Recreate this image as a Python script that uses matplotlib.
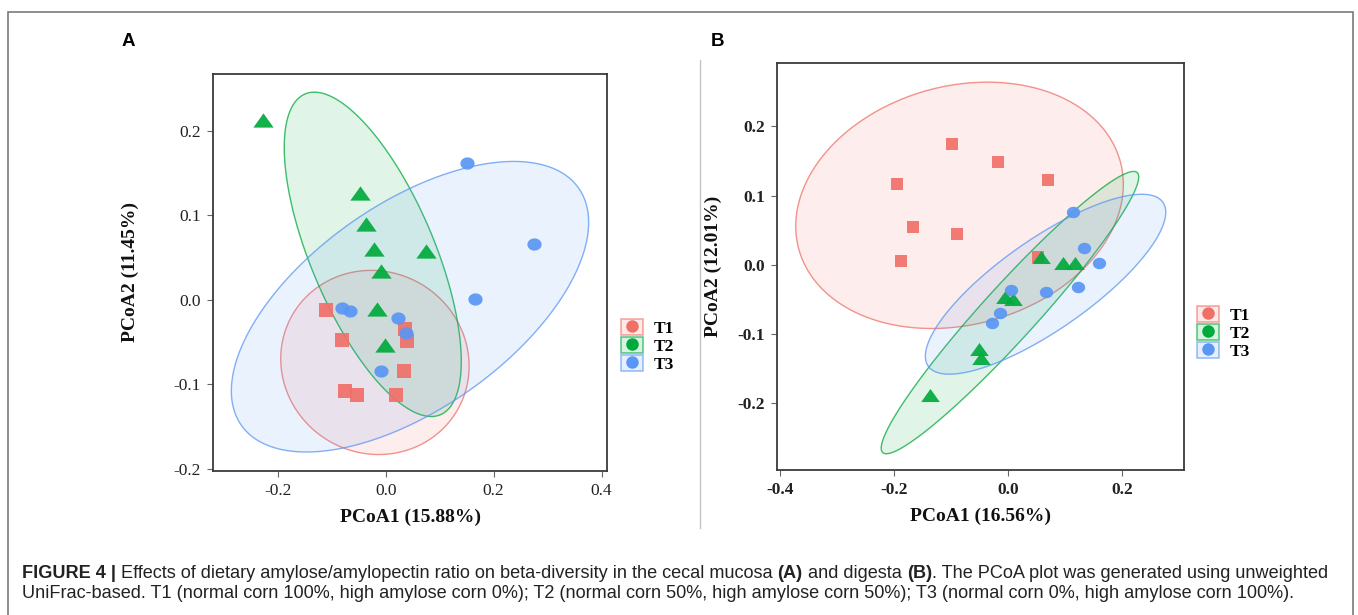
import numpy as np
import matplotlib
matplotlib.use('Agg')
import matplotlib.pyplot as plt
from matplotlib.patches import Rectangle
from matplotlib.lines import Line2D
from matplotlib.legend_handler import HandlerTuple
from matplotlib.colors import to_rgba
from matplotlib import font_manager as fm
from matplotlib.font_manager import FontProperties

# ---------------- data ----------------
groups = ['T1', 'T2', 'T3']
colors = ['#F07068', '#00AA3C', '#5A96F5']

# Panel A (cecal mucosa)
a_t1_x = [-0.111, 0.036, 0.040, -0.081, 0.034, -0.075, -0.054, 0.019]
a_t1_y = [-0.012, -0.034, -0.049, -0.048, -0.084, -0.108, -0.113, -0.113]
a_t2_x = [-0.227, -0.048, -0.036, -0.022, 0.074, -0.009, -0.017, -0.001]
a_t2_y = [0.213, 0.127, 0.090, 0.060, 0.058, 0.034, -0.011, -0.053]
a_t3_x = [0.151, 0.275, 0.165, -0.081, -0.067, 0.022, 0.038, -0.009]
a_t3_y = [0.162, 0.066, 0.001, -0.009, -0.013, -0.021, -0.039, -0.084]

# confidence ellipses A: centre, half-extent in x / y, correlation
a_ell_cx = [-0.020, -0.024, 0.045]
a_ell_cy = [-0.074, 0.054, -0.008]
a_ell_sx = [0.1745, 0.164, 0.331]
a_ell_sy = [0.109, 0.192, 0.172]
a_ell_rho = [-0.04, -0.66, 0.58]

# Panel B (digesta)
b_t1_x = [-0.098, -0.017, 0.071, -0.194, -0.167, -0.090, -0.187, 0.053]
b_t1_y = [0.175, 0.149, 0.123, 0.117, 0.055, 0.044, 0.006, 0.012]
b_t2_x = [0.058, 0.097, 0.118, -0.005, 0.009, -0.051, -0.048, -0.136]
b_t2_y = [0.011, 0.002, 0.003, -0.046, -0.050, -0.122, -0.134, -0.188]
b_t3_x = [0.115, 0.134, 0.160, 0.123, 0.006, 0.067, -0.014, -0.028]
b_t3_y = [0.076, 0.024, 0.002, -0.032, -0.037, -0.039, -0.070, -0.084]

b_ell_cx = [-0.085, 0.0035, 0.066]
b_ell_cy = [0.086, -0.069, -0.028]
b_ell_sx = [0.2875, 0.226, 0.211]
b_ell_sy = [0.178, 0.204, 0.130]
b_ell_rho = [0.17, 0.96, 0.80]

a_xticks = [-0.2, 0.0, 0.2, 0.4]
a_xticklabels = ['-0.2', '0.0', '0.2', '0.4']
a_yticks = [-0.2, -0.1, 0.0, 0.1, 0.2]
a_yticklabels = ['-0.2', '-0.1', '0.0', '0.1', '0.2']
b_xticks = [-0.4, -0.2, 0.0, 0.2]
b_xticklabels = ['-0.4', '-0.2', '0.0', '0.2']
b_yticks = [-0.2, -0.1, 0.0, 0.1, 0.2]
b_yticklabels = ['-0.2', '-0.1', '0.0', '0.1', '0.2']

a_xlabel = 'PCoA1 (15.88%)'
a_ylabel = 'PCoA2 (11.45%)'
b_xlabel = 'PCoA1 (16.56%)'
b_ylabel = 'PCoA2 (12.01%)'

caption_line1 = [
    ('FIGURE 4 |', 'bold'),
    (' Effects of dietary amylose/amylopectin ratio on beta-diversity in the cecal mucosa ', 'normal'),
    ('(A)', 'bold'),
    (' and digesta ', 'normal'),
    ('(B)', 'bold'),
    ('. The PCoA plot was generated using unweighted', 'normal'),
]
caption_line2 = [
    ('UniFrac-based. T1 (normal corn 100%, high amylose corn 0%); T2 (normal corn 50%, '
     'high amylose corn 50%); T3 (normal corn 0%, high amylose corn 100%).', 'normal'),
]

# ---------------- styling ----------------
SERIF = ['Liberation Serif', 'DejaVu Serif']
plt.rcParams['font.family'] = SERIF
W, H = 1358, 615
fig = plt.figure(figsize=(W / 100, H / 100), dpi=100)
fig.patch.set_facecolor('white')

def px_axes(l, t, r, b):
    return fig.add_axes([l / W, 1 - b / H, (r - l) / W, (b - t) / H])

ax_a = px_axes(213, 74, 607, 471)
ax_b = px_axes(777, 63, 1184, 470)

tri = [(-1, -0.70), (1, -0.70), (0, 0.70), (-1, -0.70)]
th = np.linspace(0, 2 * np.pi, 40)
ovl = list(zip(np.cos(th), 0.86 * np.sin(th)))
markers = ['s', tri, ovl]

def ellipse_pts(cx, cy, sx, sy, rho):
    t = np.linspace(0, 2 * np.pi, 300)
    x = cx + sx * np.cos(t)
    y = cy + sy * (rho * np.cos(t) + np.sqrt(1 - rho ** 2) * np.sin(t))
    return x, y

def draw_panel(ax, pts, ell, sizes, xlim, ylim, xt, xtl, yt, ytl, bold_ticks):
    cx, cy, sx, sy, rho = ell
    for i, c in enumerate(colors):
        ex, ey = ellipse_pts(cx[i], cy[i], sx[i], sy[i], rho[i])
        ax.fill(ex, ey, facecolor=to_rgba(c, 0.12), edgecolor=to_rgba(c, 0.75),
                linewidth=1.0, zorder=1)
    for i, c in enumerate(colors):
        x, y = pts[i]
        ax.scatter(x, y, s=sizes[i], marker=markers[i], color=c, alpha=0.92,
                   linewidths=0, zorder=3)
    ax.set_xlim(*xlim)
    ax.set_ylim(*ylim)
    ax.set_xticks(xt)
    ax.set_xticklabels(xtl)
    ax.set_yticks(yt)
    ax.set_yticklabels(ytl)
    w = 'bold' if bold_ticks else 'normal'
    for lab in ax.get_xticklabels() + ax.get_yticklabels():
        lab.set_fontweight(w)
        lab.set_fontsize(12.5)
        lab.set_color('#222222')
    ax.tick_params(direction='out', length=4, width=0.8, color='#666666', pad=4.5)
    for sp in ax.spines.values():
        sp.set_color('#3a3a3a')
        sp.set_linewidth(1.3)

draw_panel(ax_a, [(a_t1_x, a_t1_y), (a_t2_x, a_t2_y), (a_t3_x, a_t3_y)],
           (a_ell_cx, a_ell_cy, a_ell_sx, a_ell_sy, a_ell_rho),
           [88, 215, 105], (-0.32, 0.41), (-0.2025, 0.2675),
           a_xticks, a_xticklabels, a_yticks, a_yticklabels, False)
draw_panel(ax_b, [(b_t1_x, b_t1_y), (b_t2_x, b_t2_y), (b_t3_x, b_t3_y)],
           (b_ell_cx, b_ell_cy, b_ell_sx, b_ell_sy, b_ell_rho),
           [80, 180, 92], (-0.4054, 0.309), (-0.2965, 0.2917),
           b_xticks, b_xticklabels, b_yticks, b_yticklabels, True)

lab_kw = dict(fontsize=14, fontweight='bold', color='#111111')
ax_a.set_xlabel(a_xlabel, labelpad=7, **lab_kw)
ax_a.set_ylabel(a_ylabel, labelpad=25, **lab_kw)
ax_b.set_xlabel(b_xlabel, labelpad=7, **lab_kw)
ax_b.set_ylabel(b_ylabel, labelpad=11, **lab_kw)

def add_legend(ax, x_px, y_px):
    handles = []
    for c in colors:
        r = Rectangle((0, 0), 1, 1, facecolor=to_rgba(c, 0.15),
                      edgecolor=to_rgba(c, 0.6), linewidth=1.2)
        m = Line2D([], [], ls='', marker='o', markersize=9, markerfacecolor=c,
                   markeredgecolor='none')
        handles.append((r, m))
    leg = ax.legend(handles, groups, handler_map={tuple: HandlerTuple(ndivide=1, pad=0)},
                    loc='center left', bbox_to_anchor=(x_px / W, 1 - y_px / H),
                    bbox_transform=fig.transFigure, frameon=False, borderpad=0,
                    borderaxespad=0, handlelength=1.25, handleheight=1.05,
                    labelspacing=0.02, handletextpad=0.65,
                    prop=FontProperties(family=SERIF, weight='bold', size=12.5))
    return leg

add_legend(ax_a, 621, 346)
add_legend(ax_b, 1197, 333)

# panel letters
fig.text(128 / W, 1 - 42 / H, 'A', ha='center', va='center', fontsize=13.5,
         fontweight='bold', family=['Liberation Sans', 'DejaVu Sans'])
fig.text(718 / W, 1 - 42 / H, 'B', ha='center', va='center', fontsize=13.5,
         fontweight='bold', family=['Liberation Sans', 'DejaVu Sans'])

# outer frame and separator
fig.add_artist(Rectangle((7.5 / W, -0.05), (1353 - 7.5) / W, 1.05 - 11.5 / H,
                         transform=fig.transFigure, fill=False, edgecolor='#7a7a7a',
                         linewidth=1.2))
fig.add_artist(Line2D([700 / W, 700 / W], [1 - 60 / H, 1 - 528 / H],
                      transform=fig.transFigure, color='#c4c4c4', linewidth=1.0))

# caption
try:
    fm.findfont(FontProperties(family='Liberation Sans Narrow'), fallback_to_default=False)
    cap_family = ['Liberation Sans Narrow', 'Liberation Sans', 'DejaVu Sans']
except Exception:
    cap_family = ['Liberation Sans', 'DejaVu Sans']

renderer = fig.canvas.get_renderer()

def text_width(s, size, weight):
    fp = FontProperties(family=cap_family, size=size, weight=weight)
    t1 = fig.text(0, 0, 'I' + s + 'I', fontproperties=fp)
    t2 = fig.text(0, 0, 'II', fontproperties=fp)
    w = t1.get_window_extent(renderer).width - t2.get_window_extent(renderer).width
    t1.remove(); t2.remove()
    return w

base = 12.0
total = sum(text_width(s, base, w) for s, w in caption_line1)
cap_size = base * (1338 - 22) / total

def draw_runs(runs, x_px, y_px, size):
    x = x_px
    for s, w in runs:
        fig.text(x / W, 1 - y_px / H, s, fontsize=size, fontweight=w,
                 family=cap_family, ha='left', va='center', color='#222222')
        x += text_width(s, size, w)

draw_runs(caption_line1, 22, 573, cap_size)
draw_runs(caption_line2, 22, 594, cap_size)

fig.savefig('out.png', dpi=100, facecolor='white')
